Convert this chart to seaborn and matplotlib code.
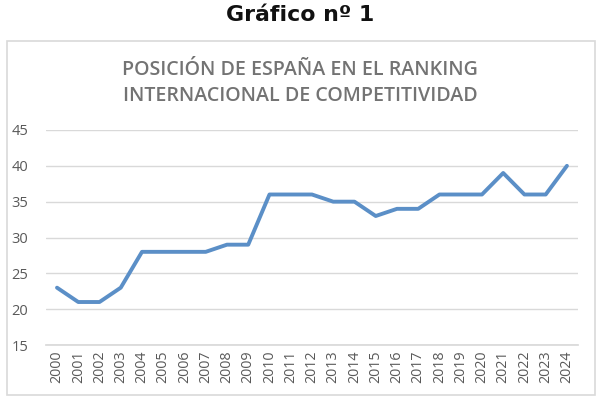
import matplotlib
matplotlib.use("Agg")
import matplotlib.pyplot as plt
import seaborn as sns
import pandas as pd
from matplotlib.patches import Rectangle

years = [str(y) for y in range(2000, 2025)]
positions = [23, 21, 21, 23, 28, 28, 28, 28, 29, 29, 36, 36, 36, 35, 35,
             33, 34, 34, 36, 36, 36, 39, 36, 36, 40]
yticks = [15, 20, 25, 30, 35, 40, 45]

sns.set_theme(style="white")
plt.rcParams['font.family'] = ['Open Sans', 'DejaVu Sans']

df = pd.DataFrame({"idx": range(len(years)), "year": years, "pos": positions})

fig = plt.figure(figsize=(6.0, 3.99), dpi=100)
frame = Rectangle((0.0117, 0.01), 0.98, 0.887, transform=fig.transFigure,
                  facecolor="none", edgecolor="#d9d9d9", linewidth=1.2, zorder=-1)
fig.patches.append(frame)

ax = fig.add_axes([0.0773, 0.1353, 0.8853, 0.5389])
ax.set_zorder(2)
ax.set_facecolor("none")
sns.lineplot(data=df, x="idx", y="pos", ax=ax, color="#5b8fc7", linewidth=2.8)

ax.set_xlim(-0.5, len(years) - 0.5)
ax.set_ylim(15, 45)
ax.set_yticks(yticks)
ax.set_yticklabels([str(v) for v in yticks], color="#595959", fontsize=10.5)
ax.set_xticks(range(len(years)))
ax.set_xticklabels(years, rotation=90, color="#595959", fontsize=10.3)
ax.tick_params(axis="y", length=0, pad=13)
ax.tick_params(axis="x", length=0, pad=4)
ax.grid(axis="y", color="#d9d9d9", linewidth=1)
ax.grid(axis="x", visible=False)
for s in ["top", "right", "left"]:
    ax.spines[s].set_visible(False)
ax.spines["bottom"].set_color("#d9d9d9")
ax.set_xlabel("")
ax.set_ylabel("")

fig.text(0.5, 0.962, "Gráfico nº 1", ha="center", va="center", fontsize=15.8,
         fontweight="bold", family=["DejaVu Sans"], color="#111111")
fig.text(0.5, 0.792, "POSICIÓN DE ESPAÑA EN EL RANKING\nINTERNACIONAL DE COMPETITIVIDAD",
         ha="center", va="center", fontsize=14.1, fontweight="semibold", color="#737373",
         linespacing=1.35)

fig.savefig("out.png", dpi=100)
